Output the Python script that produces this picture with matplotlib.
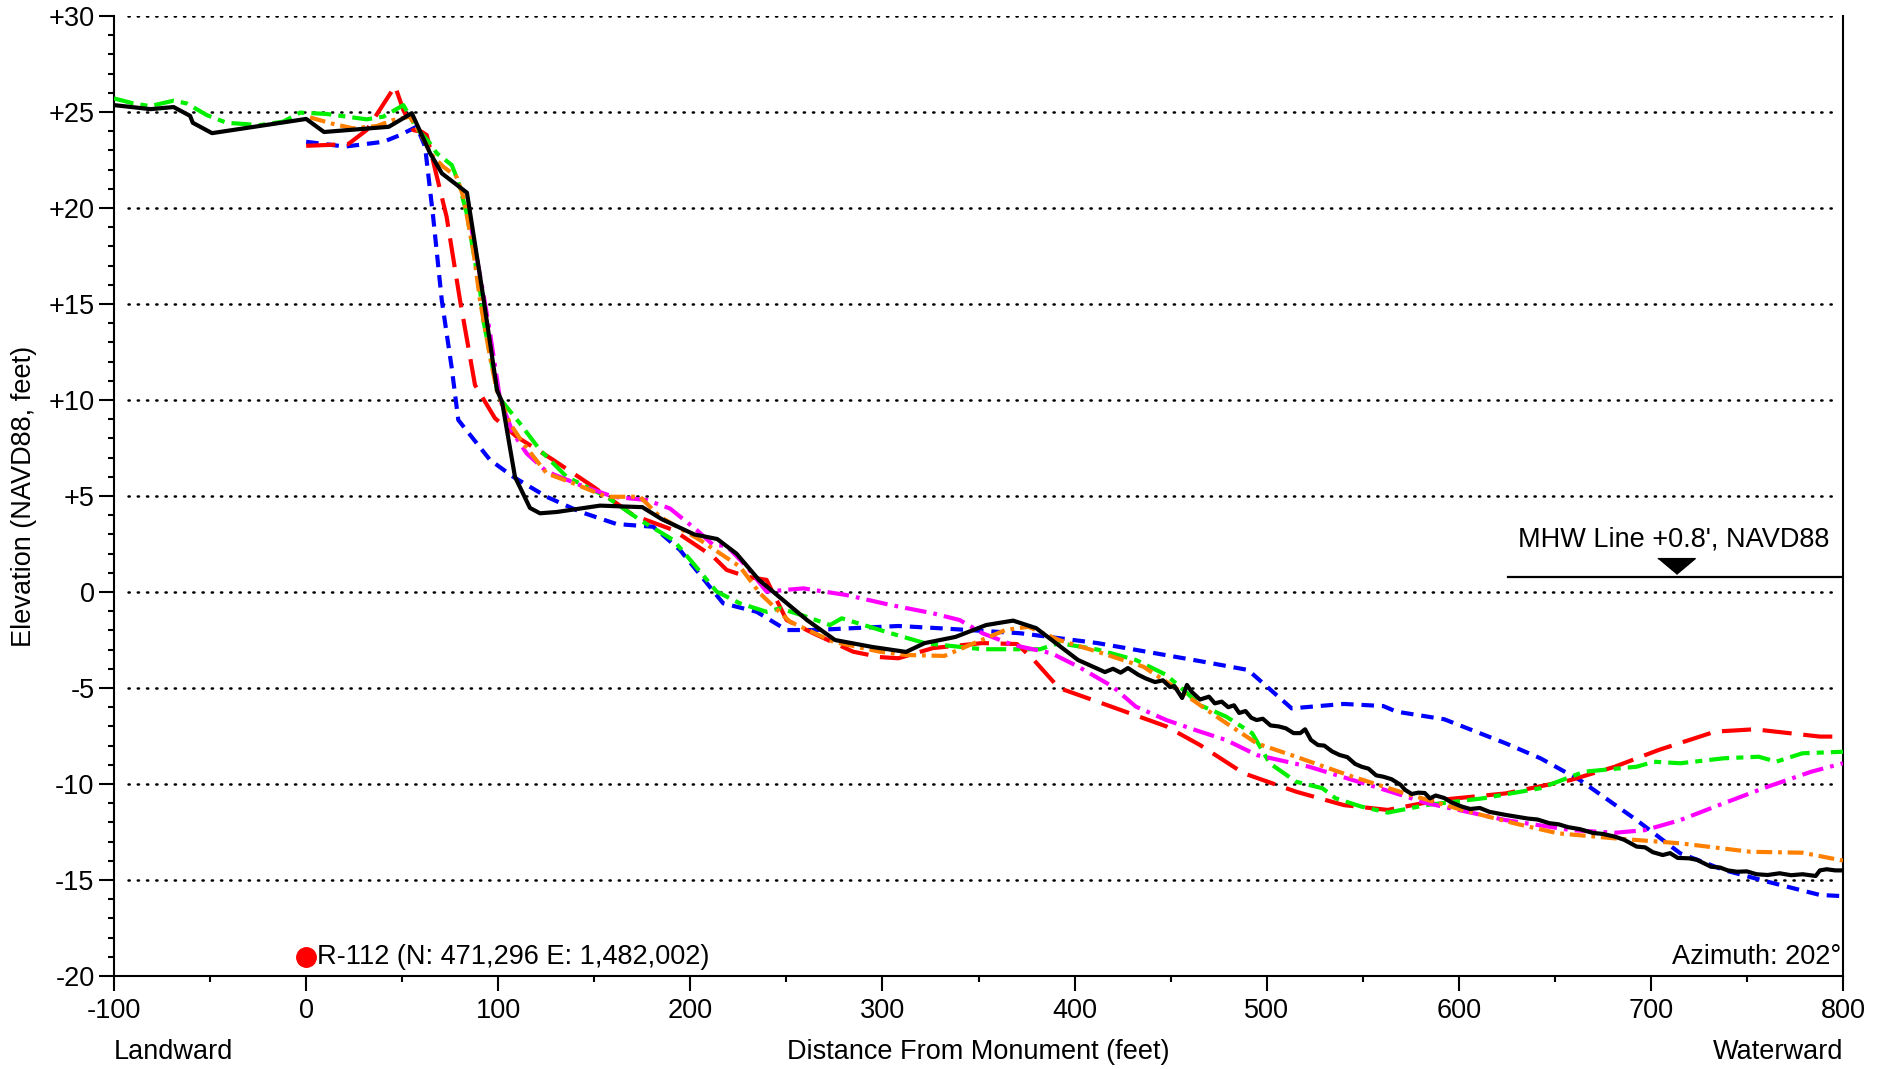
import matplotlib
matplotlib.use("Agg")
import matplotlib.pyplot as plt
from matplotlib.ticker import MultipleLocator, FixedLocator

plt.rcParams['font.family'] = ['Liberation Sans', 'DejaVu Sans']

# ---------------- data ----------------
black_x = [-100, -81, -69, -60.4, -59, -49, 0, 9.3, 43, 55, 64.5, 70.7, 78.5, 83.7, 92, 99.4, 102,
           108.7, 116.5, 121.7, 130.6, 153, 175, 185, 202, 214, 224, 235.7, 260.7, 275.3, 294.6,
           312.3, 322, 338, 354, 368, 380, 401.8, 415.8, 420, 424, 427.8, 433, 437, 441.9, 446,
           449.7, 452, 456, 458.5, 461, 465.3, 470, 473, 476.6, 480, 483, 485.7, 489, 492, 494.8,
           498, 502, 506.2, 510, 514, 517.5, 520, 523, 526.7, 530, 534, 538, 542, 546, 549.4, 553,
           557, 560.7, 565, 569.8, 572, 575.5, 579, 582.3, 585, 588, 592.5, 596, 601.7, 606, 611,
           616, 624.4, 630, 636, 641, 647.1, 652, 657, 663, 669.9, 675, 681.2, 686, 692.6, 697, 701,
           706.2, 710, 714, 719.8, 724, 728, 731.3, 736, 740, 744.9, 750, 755, 760.8, 767, 773, 779,
           785.8, 788, 791.5, 796, 800]
black_y = [25.36, 25.15, 25.26, 24.8, 24.44, 23.9, 24.64, 23.96, 24.23, 24.94, 22.86, 21.8, 21.2, 20.8,
           15.5, 10.5, 9.9, 6.0, 4.38, 4.1, 4.17, 4.5, 4.42, 3.8, 3.0, 2.76, 2.0, 0.63, -1.46, -2.5,
           -2.86, -3.12, -2.66, -2.34, -1.72, -1.49, -1.88, -3.54, -4.17, -4.0, -4.2, -3.96, -4.3,
           -4.5, -4.69, -4.6, -4.95, -4.9, -5.52, -4.84, -5.2, -5.6, -5.45, -5.8, -5.71, -6.0, -5.9,
           -6.3, -6.2, -6.55, -6.67, -6.6, -6.95, -7.0, -7.1, -7.35, -7.35, -7.15, -7.7, -7.97, -8.0,
           -8.3, -8.49, -8.6, -8.95, -9.1, -9.2, -9.55, -9.62, -9.75, -10.05, -10.3, -10.52, -10.45,
           -10.47, -10.75, -10.6, -10.73, -10.95, -11.18, -11.3, -11.25, -11.45, -11.61, -11.7,
           -11.8, -11.85, -12.04, -12.1, -12.25, -12.35, -12.55, -12.6, -12.74, -12.9, -13.26,
           -13.3, -13.55, -13.7, -13.6, -13.85, -13.87, -13.95, -14.15, -14.31, -14.35, -14.5,
           -14.57, -14.55, -14.7, -14.74, -14.65, -14.75, -14.7, -14.79, -14.5, -14.44, -14.5, -14.5]

blue_x = [0, 20.2, 40.2, 48.9, 57.6, 61.9, 66.1, 70.6, 75.7, 79.2, 95.7, 107.8, 125.2, 142.6, 161.6,
          180.7, 194.6, 217.1, 234.5, 250.1, 264.4, 308.3, 332, 372, 411.9, 465.3, 490.3, 513,
          540.2, 560.7, 567.5, 592.5, 624.4, 642.5, 663, 692.6, 715.3, 738, 760.8, 788, 800]
blue_y = [23.45, 23.2, 23.45, 23.8, 24.24, 23.2, 19.55, 15.2, 11.73, 8.96, 6.88, 6.0, 4.96, 4.18, 3.54,
          3.4, 2.19, -0.59, -1.03, -1.98, -1.98, -1.77, -1.9, -2.15, -2.66, -3.6, -4.06, -6.06,
          -5.83, -5.94, -6.23, -6.63, -7.88, -8.66, -9.79, -11.88, -13.61, -14.48, -15.09, -15.78,
          -15.84]

red_x = [0, 21.9, 31.5, 46.3, 50.6, 55.8, 60.2, 62.8, 73.1, 80.1, 87.9, 98.3, 109.6, 128.6, 149.4,
         170.3, 191.1, 211.9, 218.9, 229.3, 239.7, 250.1, 264, 284.8, 298.6, 308.3, 326.3, 352, 370,
         378, 391.9, 411.9, 447.8, 465.3, 488, 515.3, 540.2, 563, 590, 624.4, 658.4, 681.2, 704,
         733.5, 754, 788, 800]
red_y = [23.24, 23.33, 24.06, 26.35, 25.1, 24.06, 23.97, 23.8, 19.55, 15.2, 10.78, 9.05, 8.09, 6.88,
         5.49, 4.0, 3.23, 1.84, 1.15, 0.8, 0.63, -1.46, -2.15, -3.11, -3.39, -3.45, -2.92, -2.66,
         -2.71, -3.45, -5.0, -5.71, -7.0, -7.97, -9.44, -10.4, -11.1, -11.35, -10.83, -10.49, -9.79,
         -9.1, -8.23, -7.27, -7.15, -7.53, -7.53]

green_x = [-100, -90, -81.3, -69, -62.2, -51.7, -41.4, -24, -11.9, -3.2, 10.7, 31.5, 40.2, 50.6, 57.6,
           64.5, 68, 75.8, 79.2, 83.6, 90.5, 92.2, 100, 104.3, 111.3, 121.7, 135.6, 156.4, 173.8,
           191.1, 201.5, 213.7, 225.8, 239.7, 246.7, 260.6, 272.7, 278.8, 304.4, 322.3, 352.1, 382,
           391.9, 412, 431.9, 447.8, 457.7, 465.3, 478.9, 492.5, 501.6, 515.3, 529, 535.8, 549.4,
           563, 583.5, 613, 642.5, 665.3, 692.6, 701.6, 715.3, 738, 756.2, 765.2, 778.9, 800]
green_y = [25.71, 25.45, 25.31, 25.59, 25.45, 24.84, 24.44, 24.32, 24.5, 24.97, 24.9, 24.62, 24.76,
           25.36, 24.15, 23.37, 22.85, 22.24, 21.37, 19.72, 15.73, 14.17, 10.17, 9.65, 8.78, 7.4,
           6.0, 4.96, 3.75, 2.71, 1.49, 0.02, -0.59, -1.03, -0.85, -1.29, -1.72, -1.37, -2.15,
           -2.67, -2.98, -2.98, -2.66, -3.0, -3.54, -4.32, -5.19, -5.89, -6.49, -7.36, -8.92,
           -9.88, -10.22, -10.74, -11.18, -11.49, -11.09, -10.74, -10.22, -9.36, -9.1, -8.84,
           -8.92, -8.66, -8.58, -8.84, -8.4, -8.32]

orange_x = [2, 14.1, 24.5, 36.7, 45.3, 54, 59.3, 66.2, 71.4, 78.3, 81.8, 87, 90.5, 95.7, 99.2, 106.1,
            113, 125.2, 139.1, 156.4, 173.8, 184.2, 205, 225.8, 236.2, 251.9, 274.4, 298.6, 312.3,
            332.2, 347.5, 364, 375.9, 391.9, 411.9, 435.8, 451.7, 465.3, 476.6, 494.8, 515.3, 544.8,
            572.1, 601.7, 629, 651.7, 681.2, 715.3, 751.7, 779, 800]
orange_y = [24.72, 24.38, 24.15, 24.27, 24.58, 24.76, 23.89, 22.67, 22.15, 21.63, 20.59, 17.81, 15.2,
            12.25, 10.52, 8.78, 7.74, 6.18, 5.66, 4.96, 4.96, 3.92, 2.71, 1.32, -0.07, -1.55, -2.59,
            -3.11, -3.28, -3.33, -2.67, -1.98, -1.81, -2.5, -3.11, -3.89, -4.93, -5.89, -6.67,
            -7.88, -8.58, -9.62, -10.49, -11.35, -12.05, -12.57, -12.83, -13.09, -13.53, -13.58,
            -13.99]

magenta_x = [85, 92.2, 95.7, 101, 107.8, 114.8, 125.2, 142.6, 159.9, 177.3, 189.4, 203.3, 211.9,
             218.9, 229.3, 239.7, 258.8, 281.4, 304.4, 326.3, 340.2, 352.1, 368, 388, 402, 419.9,
             431.9, 447.8, 465.3, 478.9, 494.8, 522.1, 556.2, 583.5, 624.4, 658.4, 681.2, 697.1,
             715.3, 738, 760.8, 783.5, 800]
magenta_y = [19.5, 15.56, 13.5, 10.0, 8.26, 7.22, 6.27, 5.57, 4.96, 4.79, 4.35, 3.23, 2.45, 2.4, 1.32,
             0.02, 0.19, -0.16, -0.68, -1.11, -1.46, -2.15, -2.76, -3.19, -3.89, -4.93, -5.97,
             -6.67, -7.27, -7.71, -8.49, -9.1, -10.14, -11.0, -11.88, -12.4, -12.54, -12.4, -11.88,
             -11.0, -10.14, -9.36, -8.92]

y_ticks = [-20, -15, -10, -5, 0, 5, 10, 15, 20, 25, 30]
y_tick_labels = ['-20', '-15', '-10', '-5', '0', '+5', '+10', '+15', '+20', '+25', '+30']
x_ticks = [-100, 0, 100, 200, 300, 400, 500, 600, 700, 800]

mhw_elev = 0.8
mhw_x = [625.6, 800]
mhw_marker_x = 713
monument_x = 0
monument_y = -19
monument_label = "R-112 (N: 471,296 E: 1,482,002)"
azimuth_label = "Azimuth: 202°"

# ---------------- figure ----------------
fig = plt.figure(figsize=(18.85, 10.69), dpi=100)
ax = fig.add_axes([0.0605, 0.087, 0.9777 - 0.0605, 0.985 - 0.087])

FS = 19.5
LW = 3.0

ax.plot(blue_x, blue_y, color='#0000FF', lw=LW, linestyle=(0, (3.0, 1.9)), zorder=3)
ax.plot(red_x, red_y, color='#FF0000', lw=LW, linestyle=(0, (7.0, 2.8)), zorder=3)
ax.plot(green_x, green_y, color='#00F000', lw=LW, linestyle=(0, (4.8, 1.7, 1.7, 1.7)), zorder=3)
ax.plot(magenta_x, magenta_y, color='#FF00FF', lw=LW, linestyle=(0, (5.2, 1.7, 0.9, 1.7)), zorder=3)
ax.plot(orange_x, orange_y, color='#FF8000', lw=LW, linestyle=(0, (3.8, 1.4, 0.9, 1.4)), zorder=3)
ax.plot(black_x, black_y, color='black', lw=LW, linestyle='-', zorder=4)

# axes limits, ticks
ax.set_xlim(-100, 800)
ax.set_ylim(-20, 30)
ax.xaxis.set_major_locator(FixedLocator(x_ticks))
ax.xaxis.set_minor_locator(MultipleLocator(50))
ax.yaxis.set_major_locator(FixedLocator(y_ticks))
ax.yaxis.set_minor_locator(MultipleLocator(1))
ax.set_yticklabels(y_tick_labels)
ax.set_xticklabels([str(v) for v in x_ticks])
ax.tick_params(axis='both', which='major', direction='out', length=11, width=1.5,
               labelsize=FS, pad=3, color='black')
ax.tick_params(axis='both', which='minor', direction='out', length=4, width=1.5)
ax.tick_params(axis='x', which='major', pad=5)

for side in ['left', 'bottom', 'right']:
    ax.spines[side].set_linewidth(1.5)
    ax.spines[side].set_color('black')
ax.spines['top'].set_visible(False)

# dotted gridlines
for yv in y_ticks[1:]:
    ax.axhline(yv, xmin=0.008, xmax=0.995, color='black', lw=1.8,
               linestyle=(0, (0.5, 3.2)), dash_capstyle='round', zorder=1)

ax.text(-0.052, 0.5, "Elevation (NAVD88, feet)", transform=ax.transAxes, rotation=90,
        rotation_mode='anchor', ha='center', va='center', fontsize=FS)
ax.text(0.5, -0.079, "Distance From Monument (feet)", transform=ax.transAxes,
        ha='center', va='center', fontsize=FS)
ax.text(0.0, -0.079, "Landward", transform=ax.transAxes, ha='left', va='center', fontsize=FS)
ax.text(1.0, -0.079, "Waterward", transform=ax.transAxes, ha='right', va='center', fontsize=FS)

# MHW annotation
ax.plot(mhw_x, [mhw_elev, mhw_elev], color='black', lw=1.6, zorder=5)
tri = [(-1, 0.42), (1, 0.42), (0, -0.42)]
ax.plot([mhw_marker_x], [mhw_elev + 0.55], marker=tri, markersize=27, color='black',
        linestyle='none', zorder=5)
ax.text(793, 2.35, "MHW Line +0.8', NAVD88", ha='right', va='baseline', fontsize=FS)

# Monument
ax.plot([monument_x], [monument_y], marker='o', markersize=14, color='#FF0000',
        linestyle='none', zorder=6, clip_on=False)
ax.text(monument_x + 5.5, monument_y, monument_label, ha='left', va='center', fontsize=FS)
ax.text(799, monument_y, azimuth_label, ha='right', va='center', fontsize=FS)

fig.savefig("out.png", dpi=100)
